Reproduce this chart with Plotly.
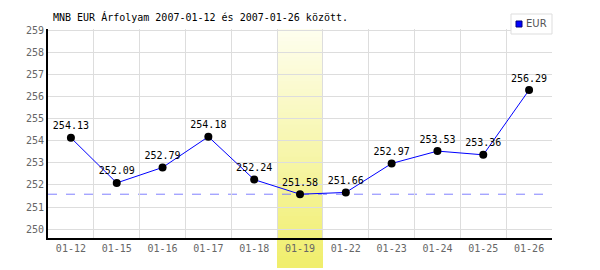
import plotly.graph_objects as go

dates = ["01-12", "01-15", "01-16", "01-17", "01-18", "01-19",
         "01-22", "01-23", "01-24", "01-25", "01-26"]
eur = [254.13, 252.09, 252.79, 254.18, 252.24, 251.58,
       251.66, 252.97, 253.53, 253.36, 256.29]
y_ticks = [250, 251, 252, 253, 254, 255, 256, 257, 258, 259]
highlight = "01-19"
series_name = "EUR"
title = "MNB EUR Árfolyam 2007-01-12 és 2007-01-26 között."

W, H = 600, 270
L, R, T, B = 48, 48, 29, 32
PW, PH = W - L - R, H - T - B

def px_x(p):
    return (p - L) / PW

def px_y(p):
    return (H - B - p) / PH

MONO = "DejaVu Sans Mono"

fig = go.Figure()
fig.add_trace(go.Scatter(
    x=dates, y=eur, mode="lines+markers+text",
    text=[f"{v:.2f}" for v in eur], textposition="top center",
    textfont=dict(family=MONO, size=10, color="#000000"),
    line=dict(color="#0000ff", width=1),
    marker=dict(color="#000000", size=8),
    showlegend=False, cliponaxis=False, hoverinfo="x+y",
))

shapes = []
# highlight column with vertical gradient (stacked, each slice runs to the bottom)
hi = dates.index(highlight)
top_c = (254, 254, 238)
bot_c = (240, 238, 108)
y_top, y_bot = px_y(29), px_y(268)
n = 60
for i in range(n):
    f = i / (n - 1)
    c = tuple(round(top_c[k] + (bot_c[k] - top_c[k]) * f) for k in range(3))
    y0 = y_top + (y_bot - y_top) * i / n
    shapes.append(dict(type="rect", xref="x", yref="paper",
                       x0=hi - 0.5, x1=hi + 0.5, y0=y_bot, y1=y0,
                       fillcolor="rgb(%d,%d,%d)" % c, line=dict(width=0),
                       layer="between"))
# min line
shapes.append(dict(type="line", xref="paper", yref="y", x0=0, x1=1,
                   y0=min(eur), y1=min(eur),
                   line=dict(color="#8080ff", width=1, dash="dash"),
                   layer="between"))
# legend box
shapes.append(dict(type="rect", xref="paper", yref="paper",
                   x0=px_x(511), x1=px_x(552), y0=px_y(34), y1=px_y(14),
                   line=dict(color="#dddddd", width=1), fillcolor="white"))
shapes.append(dict(type="rect", xref="paper", yref="paper",
                   x0=px_x(516), x1=px_x(522), y0=px_y(27), y1=px_y(21),
                   line=dict(color="#000080", width=1), fillcolor="#0000ff"))

annotations = [dict(text=series_name, xref="paper", yref="paper",
                    x=px_x(524), y=px_y(24), xanchor="left", yanchor="middle",
                    showarrow=False,
                    font=dict(family="DejaVu Sans", size=10, color="#555555"))]

fig.update_layout(
    width=W, height=H, margin=dict(l=L, r=R, t=T, b=B),
    paper_bgcolor="white", plot_bgcolor="white",
    title=dict(text=title, x=53 / W, xanchor="left", xref="container",
               y=1 - 17 / H, yanchor="middle", yref="container",
               font=dict(family=MONO, size=10, color="#000000")),
    shapes=shapes, annotations=annotations,
    xaxis=dict(type="category", tickson="boundaries", showgrid=True,
               gridcolor="#dddddd", gridwidth=1, ticks="",
               showline=True, linecolor="#000000", linewidth=2,
               tickfont=dict(family=MONO, size=10, color="#666666"),
               range=[-0.5, len(dates) - 0.5], fixedrange=True),
    yaxis=dict(range=[249.6, 259.05], tickvals=y_ticks, showgrid=True,
               gridcolor="#dddddd", gridwidth=1, ticks="", zeroline=False,
               showline=True, linecolor="#000000", linewidth=2,
               tickfont=dict(family=MONO, size=10, color="#666666"),
               fixedrange=True),
    showlegend=False,
)

fig.write_html("out.html")
